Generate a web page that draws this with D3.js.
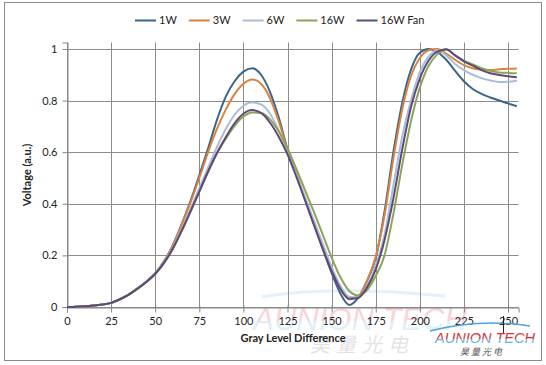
<!DOCTYPE html>
<html>
<head>
<meta charset="utf-8">
<script src="https://cdn.jsdelivr.net/npm/d3@7"></script>
<style>
  body { margin: 0; background: #fff; }
  svg { display: block; font-family: Lato, "Open Sans", sans-serif; }
</style>
</head>
<body>
<div id="chart"></div>
<script>
// data
const grayLevels = [0, 5, 10, 15, 20, 25, 30, 35, 40, 45, 50, 55, 60, 65, 70, 75, 80, 85, 90, 95,
  100, 105, 110, 115, 120, 125, 130, 135, 140, 145, 150, 155, 160, 165, 170, 175, 180, 185, 190, 195,
  200, 205, 210, 215, 220, 225, 230, 235, 240, 245, 250, 255];

const volt1W = [0, 0.001, 0.003, 0.006, 0.01, 0.016, 0.03, 0.048, 0.072, 0.099, 0.131, 0.177, 0.24, 0.32, 0.41, 0.51, 0.615, 0.725, 0.815, 0.875,
  0.912, 0.925, 0.9, 0.835, 0.735, 0.612, 0.515, 0.418, 0.32, 0.225, 0.132, 0.052, 0.008, 0.035, 0.1, 0.19, 0.37, 0.6, 0.79, 0.92,
  0.985, 1.0, 0.988, 0.958, 0.915, 0.875, 0.845, 0.826, 0.812, 0.8, 0.789, 0.778];

const volt3W = [0, 0.001, 0.003, 0.006, 0.01, 0.016, 0.03, 0.048, 0.072, 0.099, 0.13, 0.176, 0.238, 0.318, 0.405, 0.5, 0.6, 0.69, 0.765, 0.825,
  0.865, 0.882, 0.865, 0.81, 0.72, 0.61, 0.515, 0.42, 0.325, 0.232, 0.145, 0.072, 0.03, 0.04, 0.1, 0.195, 0.355, 0.575, 0.765, 0.895,
  0.965, 0.995, 1.0, 0.982, 0.958, 0.937, 0.925, 0.92, 0.918, 0.921, 0.923, 0.924];

const volt6W = [0, 0.001, 0.003, 0.006, 0.01, 0.016, 0.03, 0.048, 0.071, 0.098, 0.129, 0.173, 0.23, 0.302, 0.38, 0.46, 0.54, 0.62, 0.69, 0.745,
  0.78, 0.793, 0.785, 0.75, 0.685, 0.605, 0.515, 0.425, 0.335, 0.245, 0.155, 0.082, 0.04, 0.038, 0.08, 0.16, 0.28, 0.47, 0.66, 0.8,
  0.91, 0.97, 0.995, 0.975, 0.942, 0.918, 0.9, 0.887, 0.878, 0.872, 0.873, 0.877];

const volt16W = [0, 0.001, 0.003, 0.006, 0.01, 0.016, 0.03, 0.048, 0.071, 0.097, 0.128, 0.171, 0.226, 0.295, 0.37, 0.447, 0.525, 0.595, 0.652, 0.702,
  0.738, 0.754, 0.752, 0.728, 0.68, 0.615, 0.535, 0.452, 0.368, 0.28, 0.192, 0.115, 0.062, 0.045, 0.065, 0.12, 0.2, 0.36, 0.55, 0.72,
  0.85, 0.935, 0.98, 1.0, 0.975, 0.955, 0.94, 0.925, 0.915, 0.909, 0.907, 0.906];

const volt16WFan = [0, 0.001, 0.003, 0.006, 0.01, 0.016, 0.03, 0.048, 0.071, 0.097, 0.128, 0.171, 0.226, 0.295, 0.37, 0.447, 0.525, 0.597, 0.658, 0.712,
  0.749, 0.763, 0.752, 0.715, 0.66, 0.592, 0.505, 0.412, 0.318, 0.225, 0.14, 0.07, 0.032, 0.035, 0.075, 0.145, 0.26, 0.42, 0.61, 0.775,
  0.885, 0.955, 0.99, 0.998, 0.975, 0.952, 0.935, 0.918, 0.906, 0.899, 0.894, 0.89];

const seriesNames = ["1W", "3W", "6W", "16W", "16W Fan"];
const seriesValues = [volt1W, volt3W, volt6W, volt16W, volt16WFan];
const xTicks = [0, 25, 50, 75, 100, 125, 150, 175, 200, 225, 250];
const yTicks = [0, 0.2, 0.4, 0.6, 0.8, 1];

const colors = ["#3d6588", "#d9833f", "#a9bdd8", "#8ca457", "#5d4a7a"];

const width = 546, height = 365;
const svg = d3.select("#chart").append("svg")
  .attr("width", width)
  .attr("height", height);

// outer chart border
svg.append("rect")
  .attr("x", 4.5).attr("y", 2.5)
  .attr("width", 537).attr("height", 358)
  .attr("fill", "#fff")
  .attr("stroke", "#8a8a8a");

const x = d3.scaleLinear().domain([0, 256]).range([67, 518.6]);
const y = d3.scaleLinear().domain([0, 1.025]).range([307, 42.5]);

// watermark behind plot
const defs = svg.append("defs");
const grad = defs.append("linearGradient")
  .attr("id", "wm").attr("x1", 0).attr("y1", 0).attr("x2", 0).attr("y2", 1);
grad.append("stop").attr("offset", "0%").attr("stop-color", "#d8343f");
grad.append("stop").attr("offset", "55%").attr("stop-color", "#d8343f");
grad.append("stop").attr("offset", "56%").attr("stop-color", "#6fb3dc");
grad.append("stop").attr("offset", "100%").attr("stop-color", "#6fb3dc");

const wm = svg.append("g").attr("opacity", 0.2);
wm.append("path")
  .attr("d", "M262,297 Q330,285 445,296")
  .attr("fill", "none").attr("stroke", "#7fb8de").attr("stroke-width", 3);
wm.append("text")
  .attr("x", 360).attr("y", 330)
  .attr("text-anchor", "middle")
  .attr("font-size", 31).attr("font-style", "italic")
  .attr("font-family", "'Liberation Sans', sans-serif")
  .attr("fill", "url(#wm)")
  .text("AUNION TECH");
wm.append("text")
  .attr("x", 362).attr("y", 352)
  .attr("text-anchor", "middle")
  .attr("font-size", 20).attr("font-style", "italic")
  .attr("font-family", "'Noto Sans CJK SC', sans-serif")
  .attr("fill", "#777")
  .attr("letter-spacing", 6)
  .text("昊量光电");

// gridlines
svg.append("g")
  .selectAll("line")
  .data(yTicks)
  .join("line")
  .attr("x1", x(0)).attr("x2", x(256))
  .attr("y1", d => Math.round(y(d)) + 0.5).attr("y2", d => Math.round(y(d)) + 0.5)
  .attr("stroke", "#8c8c8c");

svg.append("g")
  .selectAll("line")
  .data(xTicks)
  .join("line")
  .attr("x1", d => Math.round(x(d)) + 0.5).attr("x2", d => Math.round(x(d)) + 0.5)
  .attr("y1", y(0)).attr("y2", y(1.025))
  .attr("stroke", "#8c8c8c");

// axes
const xAxis = svg.append("g")
  .attr("transform", `translate(0,${Math.round(y(0)) + 0.5})`)
  .call(d3.axisBottom(x).tickValues(xTicks).tickSize(5).tickPadding(5).tickFormat(d3.format("d")));
const yAxis = svg.append("g")
  .attr("transform", `translate(${Math.round(x(0)) + 0.5},0)`)
  .call(d3.axisLeft(y).tickValues(yTicks).tickSize(5).tickPadding(5).tickFormat(d => d === 0 ? "0" : d === 1 ? "1" : d3.format(".1f")(d)));
[xAxis, yAxis].forEach(a => {
  a.select(".domain").attr("stroke", "#868686");
  a.selectAll(".tick line").attr("stroke", "#868686");
  a.selectAll(".tick text").attr("font-size", 11).attr("fill", "#222")
    .attr("font-family", "Lato, sans-serif");
});
xAxis.selectAll(".tick line").attr("y1", -2);

// lines
const line = d3.line()
  .x((d, i) => x(grayLevels[i]))
  .y(d => y(d))
  .curve(d3.curveMonotoneX);

svg.append("g")
  .selectAll("path")
  .data(seriesValues)
  .join("path")
  .attr("d", line)
  .attr("fill", "none")
  .attr("stroke", (d, i) => colors[i])
  .attr("stroke-width", 2)
  .attr("stroke-linejoin", "round");

// axis titles
svg.append("text")
  .attr("x", 293).attr("y", 342)
  .attr("text-anchor", "middle")
  .attr("font-size", 11).attr("font-weight", "bold").attr("fill", "#222")
  .text("Gray Level Difference");
svg.append("text")
  .attr("transform", "translate(31,175) rotate(-90)")
  .attr("text-anchor", "middle")
  .attr("font-size", 11).attr("font-weight", "bold").attr("fill", "#222")
  .text("Voltage (a.u.)");

// legend
const legend = svg.append("g").attr("transform", "translate(0,20)");
let lx = 135;
seriesNames.forEach((name, i) => {
  legend.append("line")
    .attr("x1", lx).attr("x2", lx + 21)
    .attr("y1", 0.5).attr("y2", 0.5)
    .attr("stroke", colors[i]).attr("stroke-width", 2);
  const t = legend.append("text")
    .attr("x", lx + 24).attr("y", 4)
    .attr("font-size", 11).attr("fill", "#222")
    .text(name);
  lx += 24 + t.node().getComputedTextLength() + 12;
});

// logo bottom right
const logo = svg.append("g");
logo.append("path")
  .attr("d", "M430,331 Q480,318 530,326")
  .attr("fill", "none").attr("stroke", "#4fa3d6").attr("stroke-width", 1.5);
logo.append("line")
  .attr("x1", 503.5).attr("x2", 503.5).attr("y1", 316).attr("y2", 333)
  .attr("stroke", "#222");
logo.append("text")
  .attr("x", 485).attr("y", 343)
  .attr("text-anchor", "middle")
  .attr("font-size", 14.5).attr("font-style", "italic")
  .attr("font-family", "'Liberation Sans', sans-serif")
  .attr("fill", "url(#wm)")
  .text("AUNION TECH");
logo.append("text")
  .attr("x", 482).attr("y", 355)
  .attr("text-anchor", "middle")
  .attr("font-size", 9).attr("font-style", "italic")
  .attr("font-family", "'Noto Sans CJK SC', sans-serif")
  .attr("fill", "#555")
  .attr("letter-spacing", 2)
  .text("昊量光电");
</script>
</body>
</html>
